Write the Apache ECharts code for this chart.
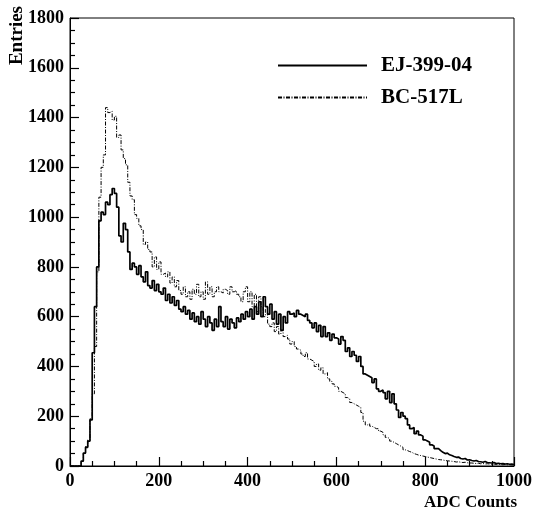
<!DOCTYPE html>
<html>
<head>
<meta charset="utf-8">
<script src="https://cdn.jsdelivr.net/npm/echarts@6/dist/echarts.min.js"></script>
<style>
html,body{margin:0;padding:0;background:#fff;}
#c{width:535px;height:510px;}
</style>
</head>
<body>
<div id="c"></div>
<script>
// Histogram: 200 bins of width 5 ADC counts, from 0 to 1000
const BIN_WIDTH = 5;
const X_MIN = 0, X_MAX = 1000;
const Y_MIN = 0, Y_MAX = 1800;
const X_TICK_STEP = 200, Y_TICK_STEP = 200;
const seriesNames = ['EJ-399-04', 'BC-517L'];

// EJ-399-04 bin contents (bin low edges 0,5,10,...,995)
const ej399 = [
  0,0,0,0,0,20,52,75,100,185,
  455,640,800,985,1020,1010,1060,1050,1090,1115,
  1095,1040,925,900,975,950,860,790,815,800,
  770,805,760,740,780,725,715,745,705,730,
  700,690,715,665,690,655,680,645,665,630,
  620,640,610,625,590,615,580,600,570,620,
  590,560,600,575,545,590,560,640,580,560,
  600,550,590,575,555,595,580,610,590,620,
  600,630,590,640,610,660,600,680,640,610,
  650,590,620,570,610,545,600,575,620,610,
  615,600,625,610,605,600,610,585,575,555,
  575,540,565,520,560,520,535,505,530,515,
  510,490,520,505,460,475,440,460,445,420,
  440,400,370,365,360,355,335,350,310,300,
  305,295,270,300,255,290,250,225,195,215,
  200,190,165,150,155,130,140,125,120,105,
  100,95,85,80,70,70,62,55,50,52,
  45,42,38,35,36,30,28,30,24,25,
  22,20,22,18,17,15,18,14,13,12,
  14,10,11,9,10,8,9,7,8,6
];

// BC-517L bin contents (bin low edges 0,5,10,...,995)
const bc517 = [
  0,0,0,0,0,18,50,78,105,190,
  290,480,780,1080,1200,1250,1440,1420,1425,1390,
  1405,1320,1330,1270,1235,1210,1140,1085,1070,1010,
  995,965,950,890,900,870,860,800,840,790,
  820,770,775,760,780,735,760,720,745,705,
  690,720,680,700,670,710,690,730,680,700,
  670,740,690,720,680,700,720,700,695,710,
  705,690,720,700,705,690,680,660,700,720,
  660,700,640,690,620,680,640,600,630,570,
  560,575,540,560,530,545,520,525,510,490,
  500,480,470,465,450,440,455,430,425,420,
  400,410,385,395,370,375,350,340,330,320,
  315,300,295,290,275,270,255,250,245,240,
  235,215,180,165,170,160,155,150,150,140,
  135,125,115,110,100,95,90,85,80,75,
  65,62,58,55,50,47,44,42,40,38,
  36,34,32,30,28,26,25,24,22,21,
  20,19,18,16,17,15,14,15,13,12,
  12,11,10,11,9,10,8,9,8,7,
  8,6,7,6,5,6,5,5,4,4
];

function toSteps(vals) {
  const pts = vals.map((v, i) => [X_MIN + i * BIN_WIDTH, v]);
  pts.push([X_MAX, vals[vals.length - 1]]);
  return pts;
}

const FONT = '"Liberation Serif", "DejaVu Serif", serif';
const axisCommon = {
  axisLine: {show: true, onZero: false, lineStyle: {color: '#000', width: 1}},
  axisTick: {show: true, inside: true, length: 9, lineStyle: {color: '#000', width: 1.2}},
  minorTick: {show: true, splitNumber: 4, length: 5, lineStyle: {color: '#000', width: 1.2}},
  splitLine: {show: false},
  axisLabel: {color: '#000', fontFamily: FONT, fontWeight: 'bold', fontSize: 18, margin: 6,
              formatter: v => String(v)}
};

const chart = echarts.init(document.getElementById('c'), null, {renderer: 'canvas'});
chart.setOption({
  animation: false,
  backgroundColor: '#ffffff',
  grid: {left: 70, right: 17, top: 18, bottom: 44, show: true, borderColor: '#000', borderWidth: 1, backgroundColor: 'transparent'},
  xAxis: Object.assign({type: 'value', min: X_MIN, max: X_MAX, interval: X_TICK_STEP, z: 5}, axisCommon),
  yAxis: Object.assign({type: 'value', min: Y_MIN, max: Y_MAX, interval: Y_TICK_STEP, z: 5}, axisCommon),
  legend: {
    orient: 'vertical', left: 272, top: 50, itemWidth: 89, itemHeight: 14, itemGap: 11,
    itemStyle: {opacity: 0},
    textStyle: {color: '#000', fontFamily: FONT, fontWeight: 'bold', fontSize: 21, padding: [0, 0, 0, 9], lineHeight: 21},
    data: seriesNames
  },
  series: [
    {
      name: seriesNames[0], type: 'line', step: 'end', symbol: 'none', showSymbol: false,
      data: toSteps(ej399),
      lineStyle: {color: '#000', width: 1.7, type: 'solid'},
      itemStyle: {color: '#000'}, z: 3
    },
    {
      name: seriesNames[1], type: 'line', step: 'end', symbol: 'none', showSymbol: false,
      data: toSteps(bc517),
      lineStyle: {color: '#000', width: 1, type: [4, 1.5, 1, 1.5]},
      itemStyle: {color: '#000'}, z: 2
    }
  ],
  graphic: [
    {type: 'text', x: 17, y: 6, rotation: Math.PI / 2,
     style: {text: 'Entries', fill: '#000', font: 'bold 19px ' + FONT, textAlign: 'right', textVerticalAlign: 'middle'}},
    {type: 'text', x: 517, y: 503,
     style: {text: 'ADC Counts', fill: '#000', font: 'bold 17px ' + FONT, textAlign: 'right', textVerticalAlign: 'middle'}}
  ]
});
</script>
</body>
</html>
